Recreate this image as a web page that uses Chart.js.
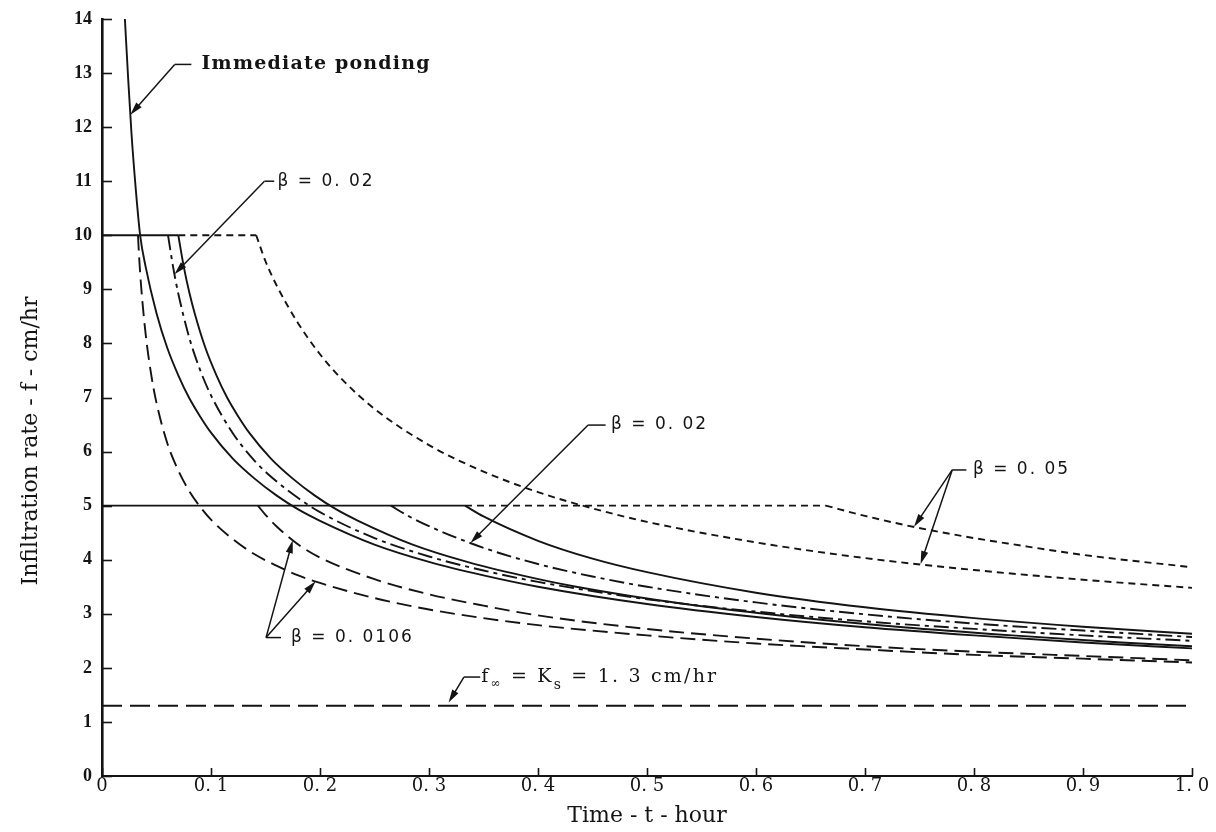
<!DOCTYPE html>
<html>
<head>
<meta charset="utf-8">
<script src="https://cdn.jsdelivr.net/npm/chart.js@4.4.1/dist/chart.umd.min.js"></script>
<style>
  html, body { margin: 0; padding: 0; background: #ffffff; }
  #wrap { width: 1216px; height: 832px; }
</style>
</head>
<body>
<div id="wrap"><canvas id="chart" width="1216" height="832"></canvas></div>
<script>
// Axis ticks
const xTickValues = [0, 0.1, 0.2, 0.3, 0.4, 0.5, 0.6, 0.7, 0.8, 0.9, 1.0];
const xTickLabels = ['0', '0. 1', '0. 2', '0. 3', '0. 4', '0. 5', '0. 6', '0. 7', '0. 8', '0. 9', '1. 0'];
const yTickValues = [0, 1, 2, 3, 4, 5, 6, 7, 8, 9, 10, 11, 12, 13, 14];
const yTickLabels = ['0', '1', '2', '3', '4', '5', '6', '7', '8', '9', '10', '11', '12', '13', '14'];

// Infiltration rate f (cm/hr) against time t (hour), as [t, f] pairs

// constant rainfall plateaus before ponding
const plateau10Solid = [[0, 10], [0.07, 10]];
const plateau10Dashed = [[0.07, 10], [0.1415, 10]];
const plateau5Solid = [[0, 5], [0.333, 5]];
const plateau5Dashed = [[0.333, 5], [0.664, 5]];

// immediate ponding
const immediatePonding = [[0.021, 14.0], [0.024, 12.9], [0.027, 11.9], [0.031, 10.85], [0.035, 10.0],
  [0.04, 9.42], [0.05, 8.56], [0.06, 7.91], [0.07, 7.41], [0.08, 6.99], [0.09, 6.65], [0.1, 6.35],
  [0.12, 5.87], [0.14, 5.5], [0.16, 5.19], [0.18, 4.93], [0.2, 4.72], [0.25, 4.28], [0.3, 3.96],
  [0.35, 3.71], [0.4, 3.5], [0.5, 3.18], [0.6, 2.94], [0.7, 2.75], [0.8, 2.6], [0.9, 2.47], [1.0, 2.36]];

// rainfall 10 cm/hr, after ponding
const solid10 = [[0.07, 10.0], [0.075, 9.42], [0.08, 8.95], [0.085, 8.56], [0.095, 7.91], [0.105, 7.41],
  [0.115, 6.99], [0.125, 6.65], [0.135, 6.35], [0.155, 5.87], [0.175, 5.5], [0.195, 5.19], [0.215, 4.93],
  [0.235, 4.72], [0.285, 4.28], [0.335, 3.96], [0.385, 3.71], [0.435, 3.5], [0.535, 3.18], [0.635, 2.94],
  [0.735, 2.75], [0.835, 2.6], [0.935, 2.47], [1.0, 2.4]];
const beta002Rain10 = [[0.0606, 10.0], [0.065, 9.44], [0.07, 8.92], [0.08, 8.11], [0.09, 7.51], [0.1, 7.04],
  [0.12, 6.34], [0.14, 5.83], [0.16, 5.45], [0.18, 5.14], [0.2, 4.88], [0.25, 4.4], [0.3, 4.06],
  [0.35, 3.8], [0.4, 3.59], [0.5, 3.27], [0.6, 3.04], [0.7, 2.86], [0.8, 2.72], [0.9, 2.6], [1.0, 2.5]];
const beta0106Rain10 = [[0.033, 10.0], [0.034, 9.62], [0.036, 9.03], [0.04, 8.18], [0.045, 7.44], [0.05, 6.9],
  [0.06, 6.15], [0.07, 5.65], [0.08, 5.27], [0.09, 4.98], [0.1, 4.74], [0.12, 4.38], [0.14, 4.1],
  [0.16, 3.89], [0.18, 3.71], [0.2, 3.57], [0.25, 3.29], [0.3, 3.08], [0.35, 2.92], [0.4, 2.79],
  [0.5, 2.6], [0.6, 2.45], [0.7, 2.34], [0.8, 2.24], [0.9, 2.17], [1.0, 2.1]];
const beta005Rain10 = [[0.1415, 10.0], [0.15, 9.52], [0.16, 9.08], [0.18, 8.37], [0.2, 7.8], [0.22, 7.34],
  [0.25, 6.79], [0.3, 6.12], [0.35, 5.63], [0.4, 5.25], [0.45, 4.95], [0.5, 4.7], [0.6, 4.32],
  [0.7, 4.03], [0.8, 3.81], [0.9, 3.63], [1.0, 3.48]];

// rainfall 5 cm/hr, after ponding
const solid5 = [[0.333, 5.0], [0.35, 4.8], [0.4, 4.35], [0.45, 4.02], [0.5, 3.77], [0.6, 3.39], [0.7, 3.12],
  [0.8, 2.92], [0.9, 2.76], [1.0, 2.63]];
const beta002Rain5 = [[0.265, 5.0], [0.28, 4.82], [0.3, 4.62], [0.35, 4.22], [0.4, 3.92], [0.45, 3.69],
  [0.5, 3.5], [0.6, 3.21], [0.7, 2.99], [0.8, 2.82], [0.9, 2.69], [1.0, 2.57]];
const beta0106Rain5 = [[0.143, 5.0], [0.15, 4.83], [0.16, 4.62], [0.18, 4.28], [0.2, 4.04], [0.25, 3.64],
  [0.3, 3.36], [0.35, 3.15], [0.4, 2.97], [0.5, 2.72], [0.6, 2.54], [0.7, 2.4], [0.8, 2.3], [0.9, 2.22],
  [1.0, 2.14]];
const beta005Rain5 = [[0.664, 5.0], [0.7, 4.81], [0.744, 4.61], [0.8, 4.4], [0.831, 4.3], [0.9, 4.09], [1.0, 3.86]];

// final infiltration rate f∞ = Ks
const ksLine = [[0, 1.3], [1.0, 1.3]];

// Line styles
const INK = '#141414';
const SOLID = [];
const LONG_DASH = [15, 7];
const SHORT_DASH = [7, 5];
const DASH_DOT = [15, 5, 4, 5];
const KS_DASH = [20, 8];

// Labelled leaders: text start, leader elbow and arrow tips in axis units
const notes = [
  { text: 'Immediate ponding', font: 'bold 19px "DejaVu Serif"', spacing: '1.2px', textT: 0.0913, f: 13.16,
    lineEndT: 0.082, elbowT: 0.0667, tips: [[0.026, 12.23]] },
  { text: 'β = 0. 02', font: '17px "DejaVu Sans"', spacing: '2px', textT: 0.161, f: 11.0,
    lineEndT: 0.158, elbowT: 0.149, tips: [[0.0665, 9.28]] },
  { text: 'β = 0. 02', font: '17px "DejaVu Sans"', spacing: '2px', textT: 0.467, f: 6.49,
    lineEndT: 0.462, elbowT: 0.446, tips: [[0.338, 4.31]] },
  { text: 'β = 0. 05', font: '17px "DejaVu Sans"', spacing: '2px', textT: 0.799, f: 5.66,
    lineEndT: 0.793, elbowT: 0.78, tips: [[0.745, 4.61], [0.751, 3.92]] },
  { text: 'β = 0. 0106', font: '17px "DejaVu Sans"', spacing: '2px', textT: 0.1734, f: 2.56,
    lineEndT: 0.1642, elbowT: 0.1505, tips: [[0.175, 4.36], [0.196, 3.6]] },
  { runs: [
      { s: 'f', size: 19, dy: 0 },
      { s: '∞', size: 12, dy: 7 },
      { s: ' = K', size: 19, dy: 0 },
      { s: 's', size: 14, dy: 8 },
      { s: ' = 1. 3 cm/hr', size: 19, dy: 0 }
    ], family: '"DejaVu Serif"', spacing: '2.2px', textT: 0.348, f: 1.83,
    lineEndT: 0.347, elbowT: 0.332, tips: [[0.318, 1.36]] }
];

const pts = arr => arr.map(([t, f]) => ({ x: t, y: f }));
function line(data, dash, width) {
  return {
    data: pts(data), borderColor: INK, borderWidth: width || 1.9, borderDash: dash,
    pointRadius: 0, fill: false, cubicInterpolationMode: 'monotone', borderCapStyle: 'butt'
  };
}

const datasets = [
  line(plateau10Solid, SOLID), line(plateau10Dashed, SHORT_DASH),
  line(plateau5Solid, SOLID), line(plateau5Dashed, SHORT_DASH),
  line(immediatePonding, SOLID),
  line(solid10, SOLID), line(beta002Rain10, DASH_DOT), line(beta0106Rain10, LONG_DASH), line(beta005Rain10, SHORT_DASH),
  line(solid5, SOLID), line(beta002Rain5, DASH_DOT), line(beta0106Rain5, LONG_DASH), line(beta005Rain5, SHORT_DASH),
  line(ksLine, KS_DASH)
];

function arrow(ctx, x0, y0, x1, y1) {
  const a = Math.atan2(y1 - y0, x1 - x0);
  const len = 13, half = 3.6;
  ctx.beginPath();
  ctx.moveTo(x0, y0);
  ctx.lineTo(x1 - Math.cos(a) * len * 0.8, y1 - Math.sin(a) * len * 0.8);
  ctx.stroke();
  ctx.beginPath();
  ctx.moveTo(x1, y1);
  ctx.lineTo(x1 - Math.cos(a) * len - Math.sin(a) * half, y1 - Math.sin(a) * len + Math.cos(a) * half);
  ctx.lineTo(x1 - Math.cos(a) * len + Math.sin(a) * half, y1 - Math.sin(a) * len - Math.cos(a) * half);
  ctx.closePath();
  ctx.fill();
}

const figureMarks = {
  id: 'figureMarks',
  afterDraw(chart) {
    const { ctx, scales: { x, y }, chartArea } = chart;
    ctx.save();
    ctx.strokeStyle = INK;
    ctx.fillStyle = INK;

    // inward tick marks
    ctx.lineWidth = 1.6;
    yTickValues.forEach(v => {
      const py = Math.round(y.getPixelForValue(v)) + 0.5;
      ctx.beginPath(); ctx.moveTo(chartArea.left, py); ctx.lineTo(chartArea.left + 10, py); ctx.stroke();
    });
    xTickValues.forEach(v => {
      const px = Math.round(x.getPixelForValue(v)) + 0.5;
      ctx.beginPath(); ctx.moveTo(px, chartArea.bottom); ctx.lineTo(px, chartArea.bottom - 8); ctx.stroke();
    });

    // leaders, arrows and their labels
    ctx.lineWidth = 1.5;
    notes.forEach(n => {
      const ty = y.getPixelForValue(n.f);
      const ex = x.getPixelForValue(n.elbowT);
      ctx.beginPath();
      ctx.moveTo(x.getPixelForValue(n.lineEndT), ty);
      ctx.lineTo(ex, ty);
      ctx.stroke();
      n.tips.forEach(([t, f]) => arrow(ctx, ex, ty, x.getPixelForValue(t), y.getPixelForValue(f)));

      ctx.textBaseline = 'middle';
      ctx.textAlign = 'left';
      ctx.letterSpacing = n.spacing || '0px';
      let tx = x.getPixelForValue(n.textT);
      if (n.runs) {
        n.runs.forEach(r => {
          ctx.font = r.size + 'px ' + n.family;
          ctx.fillText(r.s, tx, ty + r.dy);
          tx += ctx.measureText(r.s).width;
        });
      } else {
        ctx.font = n.font;
        ctx.fillText(n.text, tx, ty);
      }
    });
    ctx.letterSpacing = '0px';

    // vertical axis title
    ctx.save();
    ctx.translate(31, 441);
    ctx.rotate(-Math.PI / 2);
    ctx.font = '22px "DejaVu Serif"';
    ctx.textAlign = 'center';
    ctx.textBaseline = 'middle';
    ctx.fillText('Infiltration rate - f - cm/hr', 0, 0);
    ctx.restore();

    ctx.restore();
  }
};

new Chart(document.getElementById('chart'), {
  type: 'line',
  data: { datasets },
  options: {
    responsive: false,
    animation: false,
    devicePixelRatio: 1,
    layout: { padding: { left: 0, right: 24, top: 15, bottom: 0 } },
    plugins: { legend: { display: false }, tooltip: { enabled: false } },
    scales: {
      x: {
        type: 'linear', min: 0, max: 1,
        afterBuildTicks: s => { s.ticks = xTickValues.map(v => ({ value: v })); },
        afterFit: s => { s.height = 56; },
        grid: { display: false, drawTicks: false },
        border: { display: true, color: INK, width: 2 },
        ticks: {
          autoSkip: false, maxRotation: 0, padding: 1, color: INK,
          font: { family: 'DejaVu Serif', size: 18, lineHeight: 1 },
          callback: (v, i) => xTickLabels[i]
        },
        title: {
          display: true, text: 'Time - t - hour', color: INK,
          font: { family: 'DejaVu Serif', size: 22 }, padding: { top: 0, bottom: 3 }
        }
      },
      y: {
        type: 'linear', min: 0, max: 14,
        afterBuildTicks: s => { s.ticks = yTickValues.map(v => ({ value: v })); },
        afterFit: s => { s.width = 102; },
        grid: { display: false, drawTicks: false },
        border: { display: true, color: INK, width: 2.6 },
        ticks: {
          autoSkip: false, padding: 10, color: INK,
          font: { family: 'Liberation Serif', size: 18, weight: 'bold', lineHeight: 1 },
          callback: (v, i) => yTickLabels[i]
        }
      }
    }
  },
  plugins: [figureMarks]
});
</script>
</body>
</html>
